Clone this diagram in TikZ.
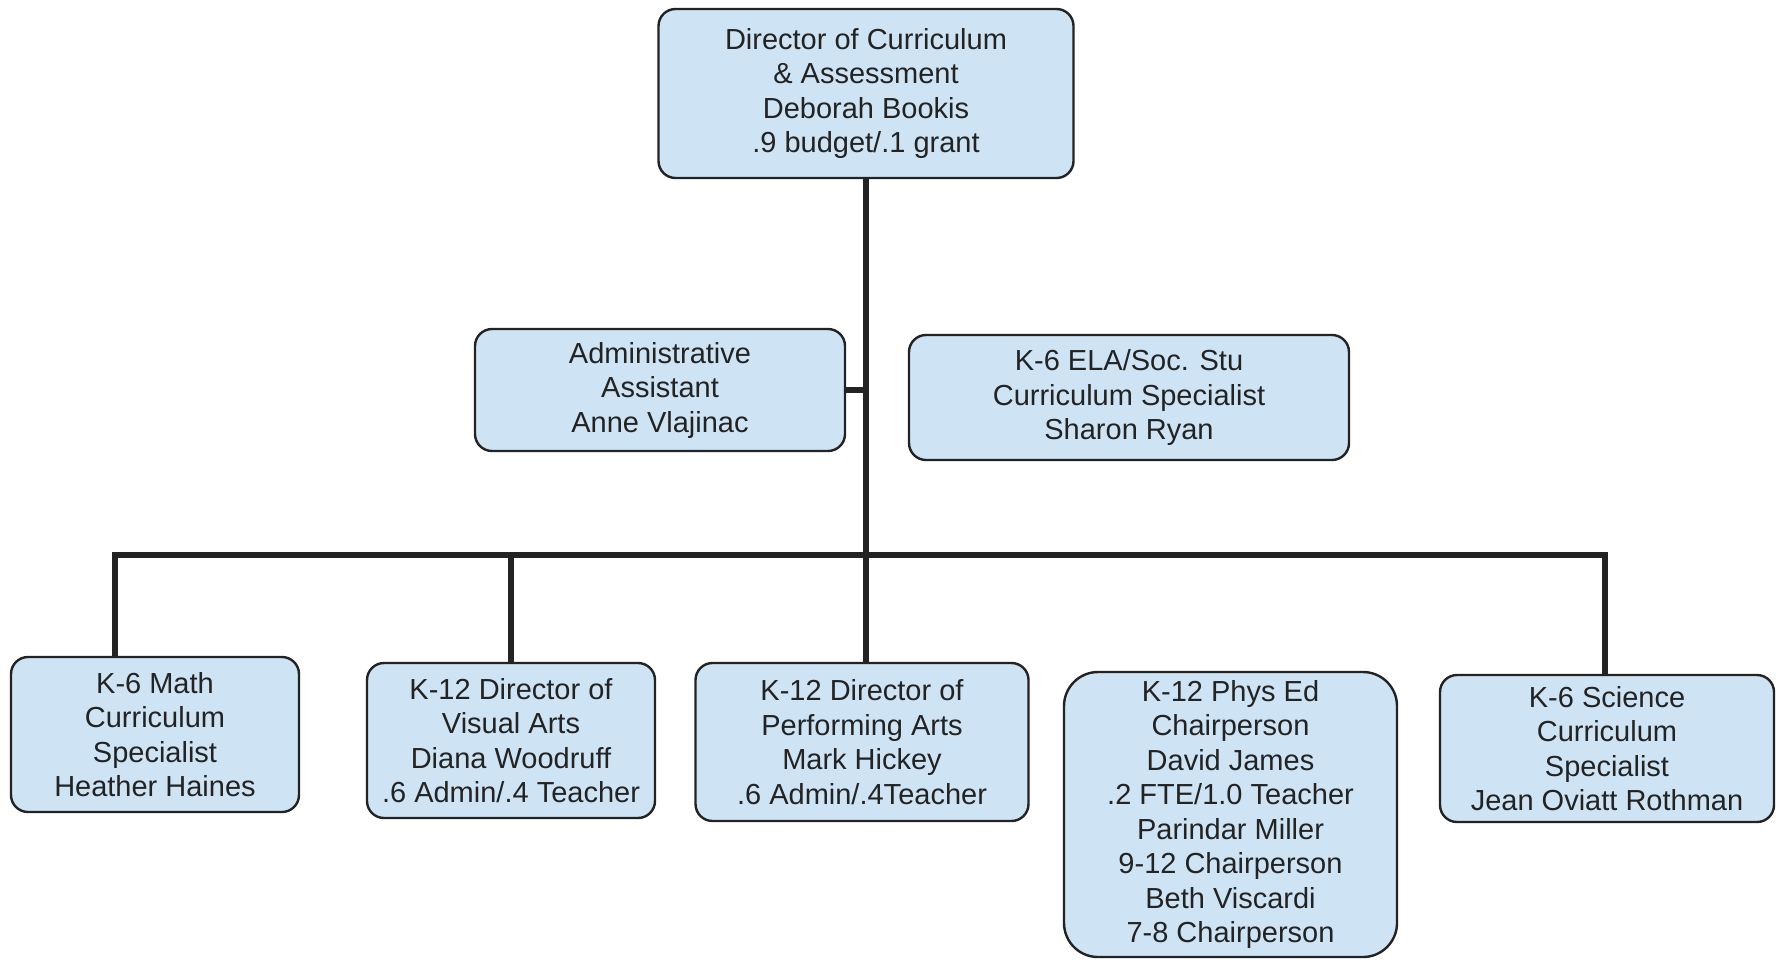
\documentclass[tikz,border=0pt]{standalone}
\usepackage{fontspec}
\setmainfont{Liberation Sans}
\definecolor{boxfill}{RGB}{206,228,245}
\definecolor{ink}{RGB}{35,35,35}
\begin{document}
\begin{tikzpicture}[x=0.5pt,y=-0.5pt,
  orgbox/.style={draw=ink, line width=1.2pt, fill=boxfill, rounded corners=8.5pt,
    align=center, inner sep=0pt, text=ink,
    font=\fontsize{14.5pt}{17.25pt}\selectfont},
  link/.style={draw=ink, line width=2.7pt}]
\useasboundingbox[fill=white] (0,0) rectangle (1781,959);

% head of the department
\node[orgbox, minimum width=207.5pt, minimum height=84.5pt] (top) at (866,93.5)
  {Director of Curriculum\\ \& Assessment\\ Deborah Bookis\\ .9 budget/.1 grant};

% staff reporting directly
\node[orgbox, minimum width=185pt, minimum height=61pt] (admin) at (660,390)
  {Administrative\\ Assistant\\ Anne Vlajinac};
\node[orgbox, minimum width=220pt, minimum height=62.5pt] (ela) at (1129,397.5)
  {K-6 ELA/Soc. Stu\\ Curriculum Specialist\\ Sharon Ryan};

% curriculum specialists and directors
\node[orgbox, minimum width=144pt, minimum height=77.5pt] (math) at (155,734.5)
  {K-6 Math\\ Curriculum\\ Specialist\\ Heather Haines};
\node[orgbox, minimum width=144pt, minimum height=77.5pt] (visual) at (511,740.5)
  {K-12 Director of\\ Visual Arts\\ Diana Woodruff\\ .6 Admin/.4 Teacher};
\node[orgbox, minimum width=166.5pt, minimum height=79pt] (perf) at (862,742)
  {K-12 Director of\\ Performing Arts\\ Mark Hickey\\ .6 Admin/.4Teacher};
\node[orgbox, rounded corners=17pt, minimum width=166.5pt, minimum height=142.5pt] (phys) at (1230.5,814.5)
  {K-12 Phys Ed\\ Chairperson\\ David James\\ .2 FTE/1.0 Teacher\\ Parindar Miller\\ 9-12 Chairperson\\ Beth Viscardi\\ 7-8 Chairperson};
\node[orgbox, minimum width=167pt, minimum height=73.5pt] (sci) at (1607,748.5)
  {K-6 Science\\ Curriculum\\ Specialist\\ Jean Oviatt Rothman};

% bus ends
\coordinate (busL) at (115,555);
\coordinate (busR) at (1605,555);

% connectors: vertical trunk, side tap for the assistant, bus to the lower row
\draw[link] (top.south) -- (top.south |- perf.north);
\draw[link] (admin.east) -- (admin.east -| top.south);
\draw[link] (math.north -| busL) -- (busL) -- (busR) -- (busR |- sci.north);
\draw[link] (visual.north) -- (visual.north |- busL);
\end{tikzpicture}
\end{document}
